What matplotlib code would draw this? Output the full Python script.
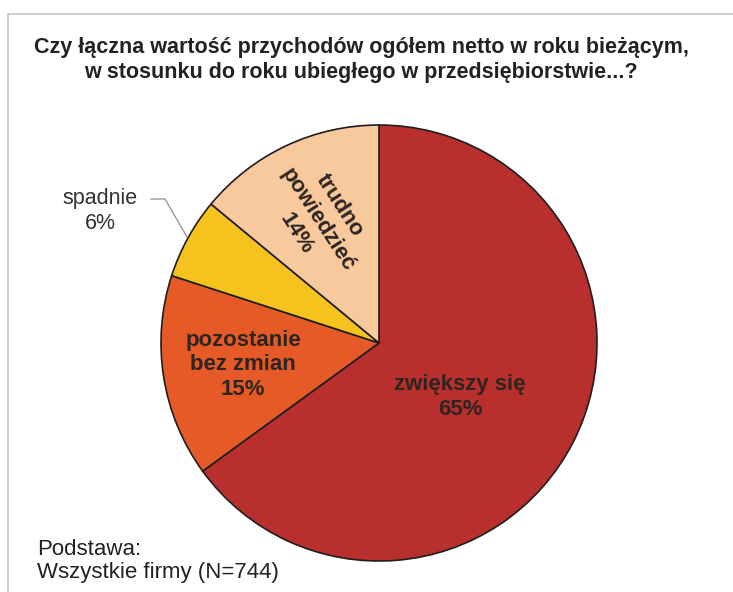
import matplotlib
matplotlib.use("Agg")
import matplotlib.pyplot as plt
from matplotlib.lines import Line2D

plt.rcParams['font.family'] = ['Liberation Sans', 'DejaVu Sans']

categories = ["zwiększy się", "pozostanie\nbez zmian", "spadnie", "trudno\npowiedzieć"]
values = [65, 15, 6, 14]
colors = ["#B82F2D", "#E65A28", "#F5C21E", "#F8C99C"]

title = "Czy łączna wartość przychodów ogółem netto w roku bieżącym,\nw stosunku do roku ubiegłego w przedsiębiorstwie...?"
footer = "Podstawa:\nWszystkie firmy (N=744)"

W, H = 733, 592
fig = plt.figure(figsize=(W / 100, H / 100), dpi=100)
fig.patch.set_facecolor("white")
ax = fig.add_axes([0, 0, 1, 1])
ax.set_xlim(0, W)
ax.set_ylim(0, H)
ax.set_aspect("equal")
ax.axis("off")

def Y(y):
    return H - y

cx, cy, r = 379, 343, 218
wedges, _ = ax.pie(values, colors=colors, startangle=90, counterclock=False,
                   center=(cx, Y(cy)), radius=r,
                   wedgeprops=dict(edgecolor="#1e1e1e", linewidth=1.2))
ax.set_xlim(0, W)
ax.set_ylim(0, H)

# frame
ax.add_line(Line2D([8, W], [Y(14), Y(14)], color="#c4c4cc", lw=1.2))
ax.add_line(Line2D([8, 8], [Y(14), 0], color="#c4c4cc", lw=1.2))

ax.text(361, Y(60), title, ha="center", va="center", fontsize=15.5, fontweight="bold",
        color="#222222", linespacing=1.2)

lab_color = "#2e2420"
ax.text(460, Y(397), f"{categories[0]}\n{values[0]}%", ha="center", va="center",
        fontsize=16, fontweight="bold", color=lab_color, linespacing=1.3)
ax.text(243, Y(365), f"{categories[1]}\n{values[1]}%", ha="center", va="center",
        fontsize=16, fontweight="bold", color=lab_color, linespacing=1.2)
ax.text(318, Y(220), f"{categories[3]}\n{values[3]}%", ha="center", va="center",
        fontsize=16, fontweight="bold", color=lab_color, linespacing=1.3,
        rotation=-57, rotation_mode="anchor")
ax.text(100, Y(211), f"{categories[2]}\n{values[2]}%", ha="center", va="center",
        fontsize=15.5, color="#333333", linespacing=1.2)
ax.add_line(Line2D([151, 165, 187], [Y(199), Y(199), Y(237)], color="#999999", lw=1))

ax.text(37, Y(561), footer, ha="left", va="center", fontsize=16, color="#222222",
        linespacing=1.15)

fig.savefig("out.png", dpi=100, facecolor="white")
